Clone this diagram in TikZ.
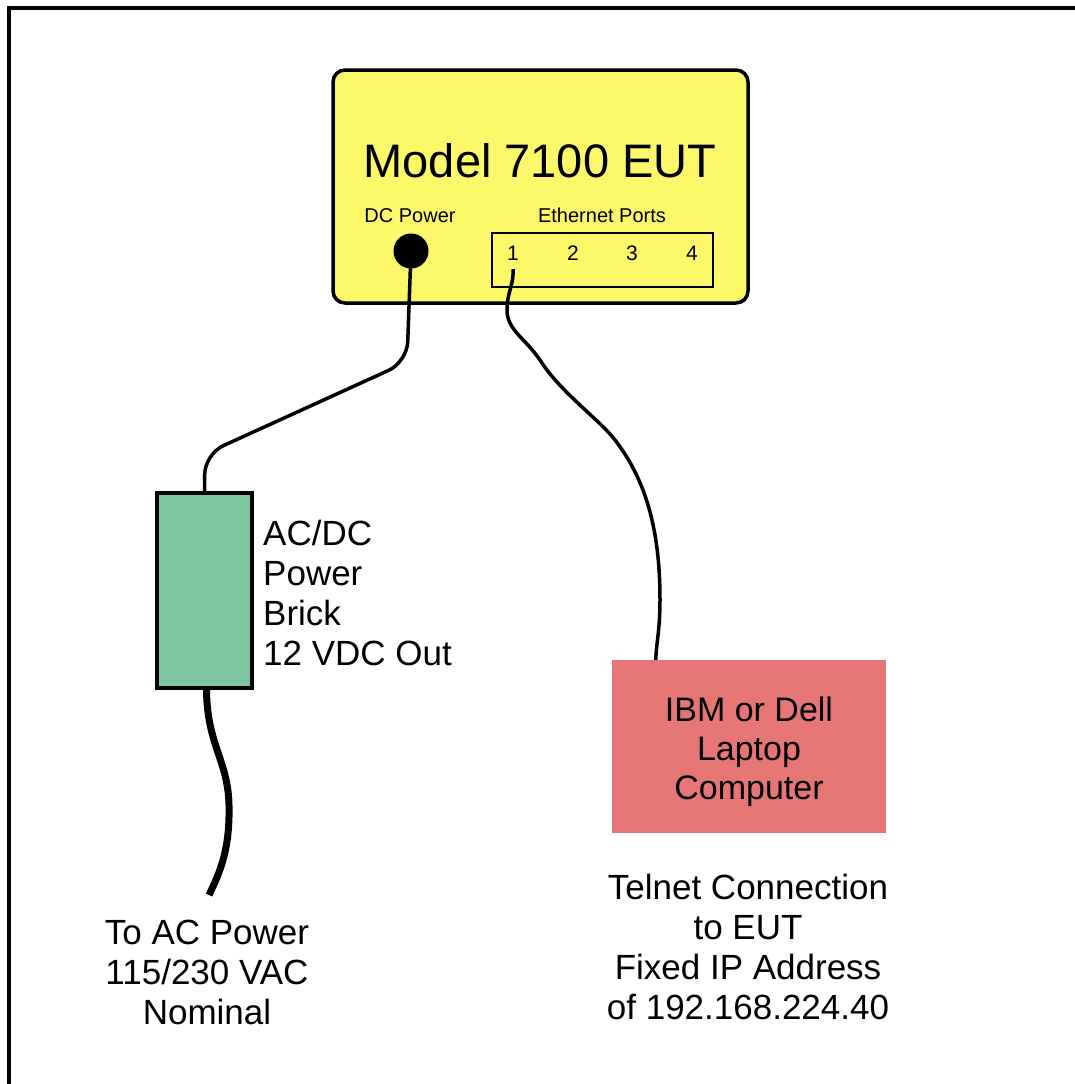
\documentclass[tikz,border=0pt]{standalone}
\usepackage{fontspec}
\setmainfont{Liberation Sans}
\usepackage{tikz}
\usetikzlibrary{positioning}
\definecolor{eutyellow}{RGB}{252,248,105}
\definecolor{brickgreen}{RGB}{126,198,160}
\definecolor{laptopred}{RGB}{230,118,118}

\begin{document}
\begin{tikzpicture}[x=1pt, y=-1pt,
  cable/.style={line width=3.5pt},
  mains/.style={line width=7pt},
  smalltext/.style={font=\fontsize{20}{24}\selectfont, inner sep=0pt, anchor=base},
  bigtext/.style={font=\fontsize{35}{40}\selectfont, align=center, inner sep=0pt}]
\useasboundingbox (0,0) rectangle (1075,1084);
\draw [line width=4pt] (9,1084) -- (9,8) -- (1075,8);
\node (eut) [draw, line width=3.5pt, fill=eutyellow, rounded corners=12pt, minimum width=415pt, minimum height=233pt] at (540.5,186.5) {};
\node (title) [anchor=base, inner sep=0pt, font=\fontsize{47}{56}\selectfont] at (540,177) {Model 7100 EUT};
\node (dclabel) [smalltext] at (410,222) {DC Power};
\node (dcjack) [circle, fill=black, minimum size=35pt, inner sep=0pt] at (411,251) {};
\node (portlabel) [smalltext] at (602,222) {Ethernet Ports};
\node (ports) [draw, line width=1.8pt, minimum width=221pt, minimum height=54pt, inner sep=0pt] at (602.5,260) {};
\foreach \n/\x in {1/513, 2/573, 3/632, 4/692}
  \node (p\n) [anchor=base, inner sep=0pt, font=\fontsize{21}{25}\selectfont] at (\x,260) {\n};
\node (brick) [draw, line width=3.5pt, fill=brickgreen, minimum width=95pt, minimum height=195pt] at (204.5,590.5) {};
\node (bricklabel) [bigtext, align=left, anchor=north west] at (263,520) {AC/DC\\Power\\Brick\\12 VDC Out};
\node (laptop) [fill=laptopred, minimum width=274pt, minimum height=173pt] at (749,746.5) {};
\node (laptoplabel) [bigtext, font=\fontsize{34}{39}\selectfont, anchor=north] at (749,697) {IBM or Dell\\Laptop\\Computer};
\node (telnet) [bigtext, anchor=north] at (748,874) {Telnet Connection\\to EUT\\Fixed IP Address\\of 192.168.224.40};
\node (aclabel) [bigtext, anchor=north] at (207,920) {To AC Power\\115/230 VAC\\Nominal};
\coordinate (acend) at (209,895);
\draw [cable, rounded corners=20pt] (dcjack.center) -- (407,362) -- (205,454) -- (brick.north);
\draw [mains] ([xshift=2pt]brick.south) .. controls (207,745) and (228,760) .. (229,805)
  .. controls (230,850) and (220,872) .. (acend);
\draw [cable] ([yshift=-9pt]p1.south) .. controls (514,285) and (507,292) .. (507,310)
  .. controls (507,330) and (525,338) .. (540,360)
  .. controls (560,392) and (600,420) .. (615,440)
  .. controls (650,485) and (660,540) .. (660,600)
  .. controls (660,630) and (656,645) .. ([xshift=44pt]laptop.north west);
\end{tikzpicture}
\end{document}
